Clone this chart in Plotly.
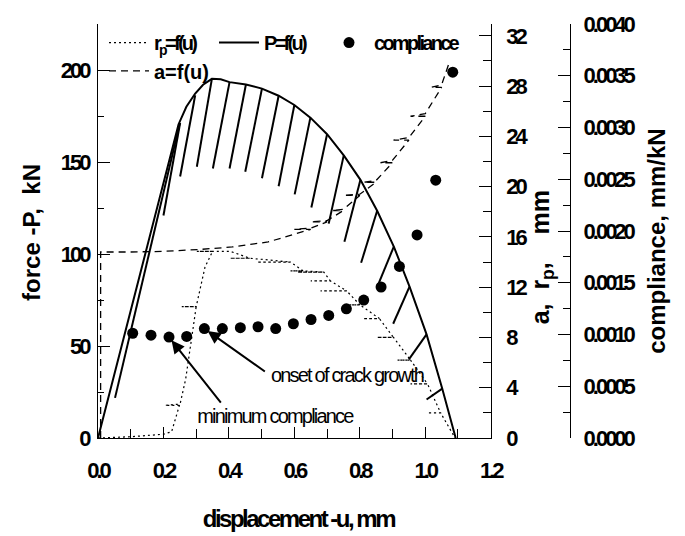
import plotly.graph_objects as go

# ---------------- data ----------------
# load-displacement curve P = f(u)
P_u = [0.000, 0.144, 0.195, 0.246, 0.270, 0.297, 0.321, 0.348, 0.375, 0.402, 0.452, 0.501, 0.552,
       0.600, 0.649, 0.700, 0.751, 0.802, 0.853, 0.904, 0.952, 1.004, 1.052, 1.093]
P_kN = [0.0, 99.6, 135.9, 170.4, 180.0, 187.2, 192.0, 195.2, 195.0, 193.4, 192.1, 189.9, 186.0,
        181.0, 174.1, 165.1, 153.6, 140.3, 123.5, 104.0, 82.3, 56.3, 26.8, 0.0]

# partial unloading lines (hatching): top point on P-curve, lower end point
hatch_u_top = [0.250, 0.251, 0.297, 0.348, 0.402, 0.452, 0.501, 0.552, 0.600, 0.649, 0.700, 0.751,
               0.802, 0.853, 0.904, 0.952, 1.004, 1.052]
hatch_P_top = [171.0, 171.3, 186.3, 195.2, 193.4, 192.1, 189.9, 186.0, 181.0, 174.1, 165.1, 153.6,
               140.3, 123.5, 104.0, 82.3, 56.3, 26.8]
hatch_u_bot = [0.052, 0.200, 0.251, 0.302, 0.351, 0.402, 0.450, 0.501, 0.552, 0.601, 0.652, 0.705,
               0.753, 0.804, 0.858, 0.902, 0.950, 1.004]
hatch_P_bot = [21.8, 120.9, 142.1, 147.4, 146.5, 146.5, 144.7, 141.2, 136.8, 132.4, 125.3, 116.5,
               106.7, 95.2, 84.2, 62.1, 42.7, 20.9]

# crack length a = f(u)  [mm]
a_u = [0.008, 0.008, 0.100, 0.200, 0.310, 0.410, 0.520, 0.600, 0.650, 0.600, 0.650,
       0.700, 0.650, 0.700, 0.750, 0.715, 0.750, 0.800, 0.750, 0.800, 0.850, 0.811, 0.850,
       0.900, 0.863, 0.900, 0.950, 0.903, 0.950, 1.000, 0.955, 1.000, 1.050, 1.018, 1.050, 1.075]
a_mm = [0.0, 14.8, 14.8, 14.85, 15.0, 15.2, 15.6, 16.2, 16.6, 16.6, 16.7,
        17.2, 17.2, 17.3, 18.1, 18.1, 18.2, 19.3, 19.3, 19.4, 20.35, 20.35, 20.5,
        21.9, 21.9, 22.1, 23.7, 23.7, 23.9, 25.6, 25.6, 25.8, 27.9, 27.9, 28.1, 30.0]

# plastic zone size r_p = f(u)  [mm]
rp_u = [0.000, 0.100, 0.200, 0.225, 0.250, 0.205, 0.250, 0.268, 0.287, 0.300, 0.256, 0.300,
        0.327, 0.350, 0.302, 0.404,
        0.465, 0.404, 0.465,
        0.588, 0.486, 0.588,
        0.627, 0.588, 0.627,
        0.690, 0.610, 0.690,
        0.710, 0.650, 0.710,
        0.760, 0.680, 0.760,
        0.800, 0.760, 0.800,
        0.860, 0.810, 0.860,
        0.903, 0.853, 0.903,
        0.955, 0.915, 0.955,
        1.007, 0.955, 1.007,
        1.047, 1.007, 1.047,
        1.100]
rp_mm = [0.00, 0.10, 0.30, 0.50, 2.70, 2.60, 2.60, 4.70, 8.10, 10.45, 10.45, 10.45,
         13.60, 14.85, 14.85, 14.85,
         14.30, 14.30, 14.30,
         14.00, 14.00, 14.00,
         13.30, 13.30, 13.30,
         13.20, 13.20, 13.20,
         12.50, 12.50, 12.50,
         11.70, 11.70, 11.70,
         10.60, 10.60, 10.60,
         9.50, 9.50, 9.50,
         8.00, 8.00, 8.00,
         6.20, 6.20, 6.20,
         4.30, 4.30, 4.30,
         2.00, 2.00, 2.00,
         -0.40]

# compliance  [mm/kN]
comp_u = [0.106, 0.162, 0.217, 0.271, 0.325, 0.380, 0.435, 0.489, 0.543, 0.597, 0.651, 0.705,
          0.759, 0.812, 0.865, 0.921, 0.975, 1.032, 1.084]
comp_C = [0.001012, 0.000993, 0.000975, 0.000981, 0.001057, 0.001057, 0.001066, 0.001075,
          0.001057, 0.001104, 0.001145, 0.001184, 0.001248, 0.001333, 0.001459, 0.001658,
          0.001962, 0.002491, 0.003535]

# ---------------- layout helpers ----------------
W, H = 685, 536
ML, MR, MT, MB = 98, 40, 14, 98
PW, PH = W - ML - MR, H - MT - MB
X_RIGHT = 490.7          # pixel of right plot edge
X_COMP = 570.0           # pixel of compliance axis


def px(xp):
    return (xp - ML) / PW


def py(yp):
    return (H - MB - yp) / PH


FN = "Liberation Sans Narrow, Arial Narrow, Liberation Sans, Arial, sans-serif"
FR = "Liberation Sans, Arial, sans-serif"
BLK = "black"

hx, hy = [], []
for ut, pt, ub, pb in zip(hatch_u_top, hatch_P_top, hatch_u_bot, hatch_P_bot):
    hx += [ut, ub, None]
    hy += [pt, pb, None]

fig = go.Figure()
fig.add_trace(go.Scatter(x=rp_u, y=rp_mm, yaxis="y2", mode="lines", name="r<sub>p</sub>=f(u)",
                         line=dict(color=BLK, width=1.2, dash="2px,3px"), legend="legend"))
fig.add_trace(go.Scatter(x=P_u, y=P_kN, mode="lines", name="P=f(u)",
                         line=dict(color=BLK, width=2), legend="legend"))
fig.add_trace(go.Scatter(x=comp_u, y=comp_C, yaxis="y3", mode="markers", name="compliance",
                         marker=dict(color=BLK, size=11), legend="legend"))
fig.add_trace(go.Scatter(x=a_u, y=a_mm, yaxis="y2", mode="lines", name="a=f(u)",
                         line=dict(color=BLK, width=1.3, dash="7px,5px"), legend="legend2"))
fig.add_trace(go.Scatter(x=hx, y=hy, mode="lines", showlegend=False,
                         line=dict(color=BLK, width=2)))

tickfont = dict(family=FN, size=22, color=BLK, weight="bold")
common = dict(showgrid=False, zeroline=False, showline=True, linecolor=BLK, linewidth=1.3,
              ticks="inside", tickcolor=BLK, tickwidth=1.3, tickfont=tickfont)

fig.update_layout(
    width=W, height=H, autosize=False,
    margin=dict(l=ML, r=MR, t=MT, b=MB, pad=0),
    paper_bgcolor="white", plot_bgcolor="white",
    xaxis=dict(domain=[0, px(X_RIGHT)], range=[0, 1.2], dtick=0.2, tick0=0, tickformat=".1f",
               ticklen=11, ticklabelstandoff=12,
               minor=dict(dtick=0.1, ticks="inside", ticklen=9, tickcolor=BLK, tickwidth=1.3),
               **common),
    xaxis2=dict(overlaying="x", side="top", anchor="y", range=[0, 1.2], dtick=0.1,
                showticklabels=False, ticklen=5, showgrid=False, zeroline=False, showline=True,
                linecolor=BLK, linewidth=1.3, ticks="inside", tickcolor=BLK, tickwidth=1.3),
    yaxis=dict(range=[0, 225], dtick=50, tick0=0, ticklen=12, ticklabelstandoff=4,
               minor=dict(dtick=25, ticks="inside", ticklen=6, tickcolor=BLK, tickwidth=1.3),
               **common),
    yaxis2=dict(overlaying="y", side="right", anchor="x", range=[0, 32.94], dtick=4, tick0=0,
                ticklen=12, ticklabelstandoff=10,
                minor=dict(dtick=2, ticks="inside", ticklen=8, tickcolor=BLK, tickwidth=1.3),
                **common),
    yaxis3=dict(overlaying="y", side="right", anchor="free", position=px(X_COMP),
                range=[0, 0.004], dtick=0.0005, tick0=0, tickformat=".4f",
                ticklen=12, ticklabelstandoff=8,
                minor=dict(dtick=0.00025, ticks="inside", ticklen=7, tickcolor=BLK, tickwidth=1.3),
                **common),
    legend=dict(orientation="h", x=px(104), y=py(33), xanchor="left", yanchor="middle",
                bgcolor="rgba(0,0,0,0)", itemwidth=40, traceorder="normal",
                entrywidth=55, entrywidthmode="pixels",
                font=dict(family=FN, size=20, color=BLK, weight="bold")),
    legend2=dict(orientation="h", x=px(104), y=py(62), xanchor="left", yanchor="middle",
                 bgcolor="rgba(0,0,0,0)", itemwidth=40,
                 font=dict(family=FN, size=20, color=BLK, weight="bold")),
    showlegend=True,
)

title_font = dict(family=FR, size=24, color=BLK, weight="bold")
ann = [
    dict(text="force -P,  kN", x=px(32), y=py(228), textangle=-90, font=title_font),
    dict(text="a,&nbsp;&nbsp;r<sub>p</sub>,&nbsp;&nbsp;&nbsp;&nbsp;mm", x=px(542), y=py(253),
         textangle=-90, font=dict(family=FR, size=25, color=BLK, weight="bold")),
    dict(text="compliance, mm/kN", x=px(657), y=py(237), textangle=-90, font=title_font),
    dict(text="displacement -u, mm", x=px(298), y=py(520),
         font=dict(family=FN, size=24, color=BLK, weight="bold")),
    dict(text="onset of crack growth", x=px(347), y=py(373),
         font=dict(family=FN, size=20, color=BLK)),
    dict(text="minimum compliance", x=px(275), y=py(415),
         font=dict(family=FN, size=20, color=BLK)),
]
for a in ann:
    fig.add_annotation(xref="paper", yref="paper", xanchor="center", yanchor="middle",
                       showarrow=False, **a)

# arrows pointing to compliance points
fig.add_annotation(x=comp_u[4], y=comp_C[4], xref="x", yref="y3", text="", showarrow=True,
                   ax=62, ay=44, axref="pixel", ayref="pixel", arrowhead=2, arrowsize=1.3,
                   arrowwidth=2, arrowcolor=BLK, standoff=4)
fig.add_annotation(x=comp_u[2], y=comp_C[2], xref="x", yref="y3", text="", showarrow=True,
                   ax=53, ay=67, axref="pixel", ayref="pixel", arrowhead=2, arrowsize=1.3,
                   arrowwidth=2, arrowcolor=BLK, standoff=4)

# tighten letter spacing of the condensed texts (the original uses a squeezed bold face)
post = """
var gd = document.getElementById('{plot_id}');
function ls(sel, v) { gd.querySelectorAll(sel).forEach(function (t) { t.style.letterSpacing = v; }); }
ls('.xtick text, .ytick text, .y2tick text, .y3tick text', '-3px');
ls('.legendtext', '-2.7px');
ls('g.annotation[data-index="3"] text', '-2.5px');
ls('g.annotation[data-index="4"] text', '-1.8px');
ls('g.annotation[data-index="5"] text', '-1.8px');
gd.querySelectorAll('.legend, .legend .scrollbox, .legend .groups').forEach(function (e) {
    e.removeAttribute('clip-path');
});
"""

fig.write_html("out.html", post_script=post)
